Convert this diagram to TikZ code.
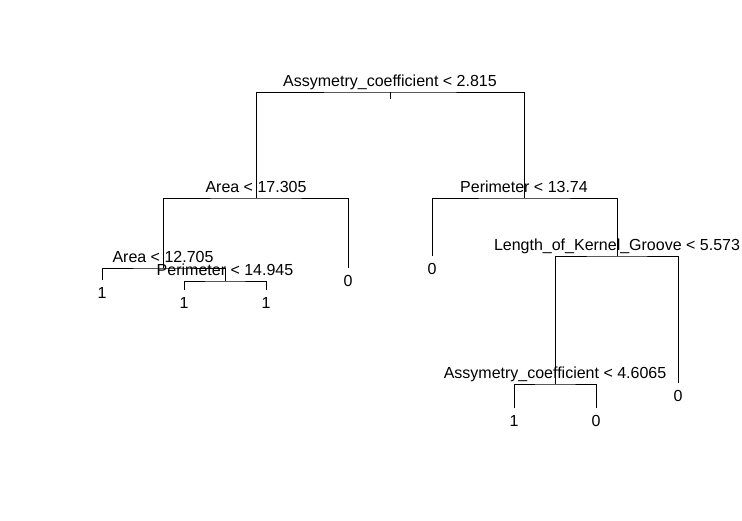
\documentclass[tikz,border=0pt]{standalone}
\usepackage{fontspec}
\setmainfont{Liberation Sans}
\usetikzlibrary{positioning}

\begin{document}
\begin{tikzpicture}[
            x=1pt, y=-1pt,
            font=\fontsize{16}{19}\selectfont,
            edge/.style={draw=black, line width=1pt},
            splitlabel/.style={anchor=base, inner sep=0pt},
            leaflabel/.style={anchor=north, inner sep=0pt},
        ]
        \useasboundingbox (0,0) rectangle (742,520);

        % split points
        \coordinate (root) at (390,92);
        \coordinate (rootstub) at (390,99);
        \coordinate (areaA) at (256,198);
        \coordinate (perimA) at (524,198);
        \coordinate (areaB) at (163,268);
        \coordinate (perimB) at (225,281);
        \coordinate (groove) at (617,256);
        \coordinate (asymB) at (555,384);

        % leaf ends
        \coordinate (leafA) at (102,280);
        \coordinate (leafB) at (184,290);
        \coordinate (leafC) at (266,290);
        \coordinate (leafD) at (348,268);
        \coordinate (leafE) at (432,256);
        \coordinate (leafF) at (514,408);
        \coordinate (leafG) at (596,408);
        \coordinate (leafH) at (678,383);

        \draw[edge] (areaA) |- (root) -| (perimA);
        \draw[edge] (root) -- (rootstub);
        \draw[edge] (areaB) |- (areaA) -| (leafD);
        \draw[edge] (leafA) |- (areaB) -| (perimB);
        \draw[edge] (leafB) |- (perimB) -| (leafC);
        \draw[edge] (leafE) |- (perimA) -| (groove);
        \draw[edge] (asymB) |- (groove) -| (leafH);
        \draw[edge] (leafF) |- (asymB) -| (leafG);

        \node[splitlabel] (rootText) at ([yshift=6pt]root) {Assymetry\_coefficient < 2.815};
        \node[splitlabel] (areaAText) at ([yshift=6pt]areaA) {Area < 17.305};
        \node[splitlabel] (perimAText) at ([yshift=6pt]perimA) {Perimeter < 13.74};
        \node[splitlabel] (areaBText) at ([yshift=6pt]areaB) {Area < 12.705};
        \node[splitlabel] (perimBText) at ([yshift=6pt]perimB) {Perimeter < 14.945};
        \node[splitlabel] (grooveText) at ([yshift=6pt]groove) {Length\_of\_Kernel\_Groove < 5.573};
        \node[splitlabel] (asymBText) at ([yshift=6pt]asymB) {Assymetry\_coefficient < 4.6065};

        \node[leaflabel, below=7pt of leafA] (leafAText) {1};
        \node[leaflabel, below=7pt of leafB] (leafBText) {1};
        \node[leaflabel, below=7pt of leafC] (leafCText) {1};
        \node[leaflabel, below=7pt of leafD] (leafDText) {0};
        \node[leaflabel, below=7pt of leafE] (leafEText) {0};
        \node[leaflabel, below=7pt of leafF] (leafFText) {1};
        \node[leaflabel, below=7pt of leafG] (leafGText) {0};
        \node[leaflabel, below=7pt of leafH] (leafHText) {0};

    \end{tikzpicture}
\end{document}
